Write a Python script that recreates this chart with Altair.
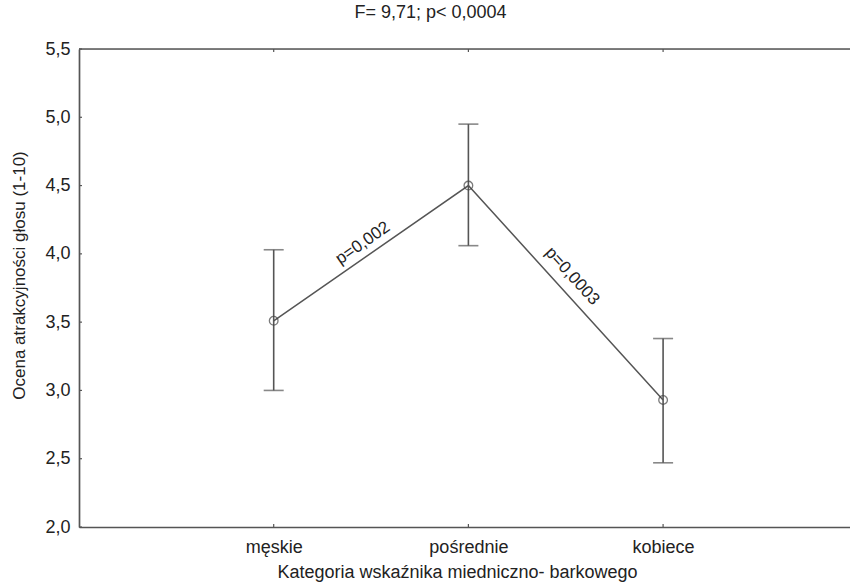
import json
import math
import altair as alt
import pandas as pd

# ---- data ----
categories = ["męskie", "pośrednie", "kobiece"]
means = [3.51, 4.50, 2.93]
lower = [3.00, 4.06, 2.47]
upper = [4.03, 4.95, 3.38]
pair_labels = ["p=0,002", "p=0,0003"]
y_ticks = [2.0, 2.5, 3.0, 3.5, 4.0, 4.5, 5.0, 5.5]
title_text = "F= 9,71; p< 0,0004"
x_title = "Kategoria wskaźnika miedniczno- barkowego"
y_title = "Ocena atrakcyjności głosu (1-10)"

# ---- layout ----
W, H = 771, 478
X_DOMAIN = [0, 3.96]
Y_DOMAIN = [2.0, 5.5]
FONT = "Liberation Sans"
TXT = "#222222"
LINE = "#555555"
ANN_OFFSETS = [(-1, -13), (-8, -16)]

idx = list(range(1, len(categories) + 1))
df = pd.DataFrame({"idx": idx, "cat": categories, "mean": means,
                   "lo": lower, "hi": upper})

px_x = W / (X_DOMAIN[1] - X_DOMAIN[0])
px_y = H / (Y_DOMAIN[1] - Y_DOMAIN[0])
ann_rows = []
for i, lab in enumerate(pair_labels):
    x0, x1 = idx[i], idx[i + 1]
    y0, y1 = means[i], means[i + 1]
    ang = -math.degrees(math.atan2((y1 - y0) * px_y, (x1 - x0) * px_x))
    ann_rows.append({"x": (x0 + x1) / 2, "y": (y0 + y1) / 2,
                     "label": lab, "angle": ang % 360})

cat_js = json.dumps(categories, ensure_ascii=False)

xscale = alt.Scale(domain=X_DOMAIN, nice=False, zero=False)
yscale = alt.Scale(domain=Y_DOMAIN, nice=False, zero=False)

xaxis = alt.Axis(values=idx, labelExpr=f"{cat_js}[datum.value - 1]",
                 title=x_title, grid=False, ticks=False,
                 labelFont=FONT, labelFontSize=18, labelColor=TXT,
                 labelPadding=11,
                 titleFont=FONT, titleFontSize=18, titleColor=TXT,
                 titleFontWeight="normal", titleX=378, titleY=50,
                 titleBaseline="alphabetic",
                 domainColor=LINE, domainWidth=1.7)
yaxis = alt.Axis(values=y_ticks,
                 labelExpr="replace(format(datum.value, '.1f'), '.', ',')",
                 title=y_title, grid=False, ticks=False,
                 labelFont=FONT, labelFontSize=18, labelColor=TXT,
                 labelPadding=9,
                 titleFont=FONT, titleFontSize=17, titleColor=TXT,
                 titleFontWeight="normal", titleX=-60, titleY=226,
                 titleBaseline="middle",
                 domainColor=LINE, domainWidth=1.7)

base = alt.Chart(df)

line = base.mark_line(color=LINE, strokeWidth=1.5).encode(
    x=alt.X("idx:Q", scale=xscale, axis=xaxis),
    y=alt.Y("mean:Q", scale=yscale, axis=yaxis),
)

bars = base.mark_rule(color=LINE, strokeWidth=1.6).encode(
    x="idx:Q", y="lo:Q", y2="hi:Q")

cap_lo = base.mark_tick(color=LINE, thickness=1.6, size=20,
                        orient="horizontal").encode(x="idx:Q", y="lo:Q")
cap_hi = base.mark_tick(color=LINE, thickness=1.6, size=20,
                        orient="horizontal").encode(x="idx:Q", y="hi:Q")

pts = base.mark_point(shape="circle", filled=False, size=75,
                      stroke="#444444", strokeWidth=1.3).encode(
    x="idx:Q", y="mean:Q")

texts = []
for r, (ddx, ddy) in zip(ann_rows, ANN_OFFSETS):
    texts.append(
        alt.Chart(pd.DataFrame([r])).mark_text(
            font=FONT, fontSize=17, color=TXT, angle=r["angle"],
            baseline="middle", align="center", dx=ddx, dy=ddy
        ).encode(x="x:Q", y="y:Q", text="label:N")
    )

# frame pieces: top border and small inward ticks
top_line = alt.Chart(pd.DataFrame({"a": [0]})).mark_rule(
    color=LINE, strokeWidth=1.7).encode(
    x=alt.value(0), x2=alt.value(W), y=alt.value(0))

ytick_df = pd.DataFrame({"v": y_ticks})
yticks_in = alt.Chart(ytick_df).mark_rule(color=LINE, strokeWidth=1.2).encode(
    y="v:Q", x=alt.value(0), x2=alt.value(3))
xticks_top = base.mark_rule(color=LINE, strokeWidth=1.2).encode(
    x="idx:Q", y=alt.value(0), y2=alt.value(3))
xticks_bot = base.mark_rule(color=LINE, strokeWidth=1.2).encode(
    x="idx:Q", y=alt.value(H), y2=alt.value(H - 3))

chart = alt.layer(
    line, bars, cap_lo, cap_hi, pts, *texts,
    top_line, yticks_in, xticks_top, xticks_bot
).properties(
    width=W, height=H,
    title=alt.TitleParams(title_text, font=FONT, fontSize=18,
                          fontWeight="normal", color=TXT,
                          anchor="middle", frame="group", dx=-34, offset=18),
    autosize=alt.AutoSizeParams(type="none"),
    padding={"left": 79, "top": 49, "right": 0, "bottom": 58},
).configure_view(stroke=None).configure(background="white")

chart.save("out.html", embed_options={"renderer": "svg", "actions": False})
